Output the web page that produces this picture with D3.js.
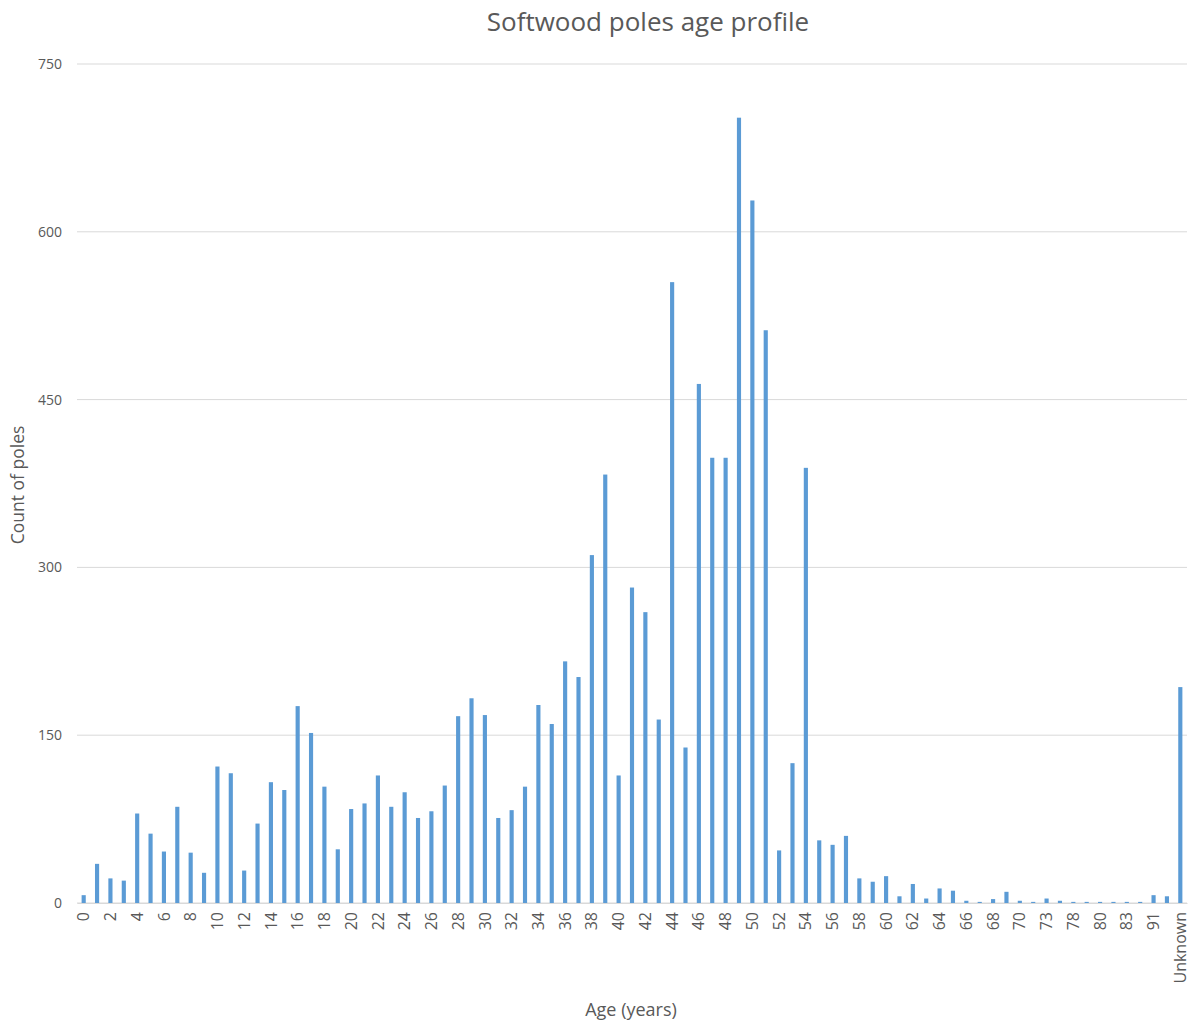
<!DOCTYPE html>
<html>
<head>
<meta charset="utf-8">
<script src="https://cdn.jsdelivr.net/npm/d3@7"></script>
<style>
  body { margin: 0; background: #fff; }
  text { font-family: "Open Sans", sans-serif; fill: #595959; }
</style>
</head>
<body>
<script>
// age categories as on the x axis (every other one is labelled)
var ages = [];
for (var a = 0; a <= 70; a++) ages.push(String(a));
ages = ages.concat(["71", "73", "75", "78", "79", "80", "81", "83", "86", "91", "93", "Unknown"]);

var counts = [
    7, 35, 22, 20, 80, 62, 46, 86, 45, 27,
    122, 116, 29, 71, 108, 101, 176, 152, 104, 48,
    84, 89, 114, 86, 99, 76, 82, 105, 167, 183,
    168, 76, 83, 104, 177, 160, 216, 202, 311, 383,
    114, 282, 260, 164, 555, 139, 464, 398, 398, 702,
    628, 512, 47, 125, 389, 56, 52, 60, 22, 19,
    24, 6, 17, 4, 13, 11, 2, 1, 3.5, 10,
    2, 1, 4, 2, 1, 1, 1, 1, 1, 1,
    7, 6, 193
];

var yTicks = [0, 150, 300, 450, 600, 750];

var width = 1190, height = 1024;
var margin = {top: 64, right: 3, bottom: 121, left: 77};

var svg = d3.select("body").append("svg")
    .attr("width", width)
    .attr("height", height);

var x = d3.scaleBand()
    .domain(ages)
    .range([margin.left, width - margin.right])
    .paddingInner(0.69)
    .paddingOuter(0.345);

var y = d3.scaleLinear()
    .domain([0, 750])
    .range([height - margin.bottom, margin.top]);

// gridlines
svg.append("g").selectAll("line").data(yTicks).enter().append("line")
    .attr("x1", margin.left)
    .attr("x2", width - margin.right)
    .attr("y1", function(d) { return y(d); })
    .attr("y2", function(d) { return y(d); })
    .attr("stroke", "#d9d9d9")
    .attr("stroke-width", 1);

// y labels
svg.append("g").selectAll("text").data(yTicks).enter().append("text")
    .attr("x", 62)
    .attr("y", function(d) { return y(d); })
    .attr("dy", "0.35em")
    .attr("text-anchor", "end")
    .style("font-size", "14px")
    .text(function(d) { return d; });

// bars
svg.append("g").selectAll("rect").data(counts).enter().append("rect")
    .attr("x", function(d, i) { return x(ages[i]); })
    .attr("y", function(d) { return y(d); })
    .attr("width", x.bandwidth())
    .attr("height", function(d) { return y(0) - y(d); })
    .attr("fill", "#5b9bd5");

// x axis
var xAxis = d3.axisBottom(x)
    .tickValues(ages.filter(function(d, i) { return i % 2 === 0; }))
    .tickSize(0)
    .tickPadding(0);

var gx = svg.append("g")
    .attr("transform", "translate(0," + y(0) + ")")
    .call(xAxis);
gx.select(".domain").attr("stroke", "#d9d9d9");
gx.selectAll("text")
    .attr("transform", "rotate(-90)")
    .attr("x", -9)
    .attr("y", 0)
    .attr("dy", "0.35em")
    .attr("text-anchor", "end")
    .style("font-size", "16px")
    .style("font-family", "'Open Sans', sans-serif")
    .attr("fill", "#595959");

// titles
svg.append("text")
    .attr("x", 648)
    .attr("y", 31)
    .attr("text-anchor", "middle")
    .style("font-size", "26px")
    .text("Softwood poles age profile");

svg.append("text")
    .attr("x", 631)
    .attr("y", 1016)
    .attr("text-anchor", "middle")
    .style("font-size", "18px")
    .text("Age (years)");

svg.append("text")
    .attr("transform", "translate(24,485) rotate(-90)")
    .attr("text-anchor", "middle")
    .style("font-size", "17.5px")
    .text("Count of poles");
</script>
</body>
</html>
